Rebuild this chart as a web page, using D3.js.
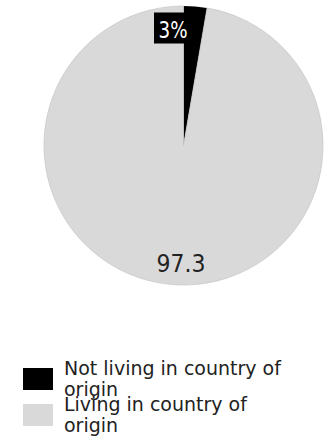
<!DOCTYPE html>
<html>
<head>
<meta charset="utf-8">
<script src="https://cdn.jsdelivr.net/npm/d3@7"></script>
<style>
  html, body { margin: 0; padding: 0; background: #fff; }
  svg { display: block; }
  text { font-family: "DejaVu Sans", Verdana, sans-serif; }
</style>
</head>
<body>
<svg id="chart" width="331" height="442"></svg>
<script>
const categories = ["Not living in country of origin", "Living in country of origin"];
const values = [2.7, 97.3];
const sliceLabels = ["3%", "97.3"];
const legendLines = [["Not living in country of", "origin"], ["Living in country of", "origin"]];
const colors = ["#000000", "#d9d9d9"];

const svg = d3.select("#chart");
const cx = 183.5, cy = 145.5, r = 139.5;

const color = d3.scaleOrdinal().domain(categories).range(colors);
const pie = d3.pie().sort(null).value(d => d.value);
const data = categories.map((c, i) => ({ cat: c, value: values[i], label: sliceLabels[i] }));
const arcs = pie(data);
const arc = d3.arc().innerRadius(0).outerRadius(r);

const g = svg.append("g").attr("transform", `translate(${cx},${cy})`);
g.selectAll("path.slice")
  .data(arcs)
  .join("path")
  .attr("class", "slice")
  .attr("d", arc)
  .attr("fill", d => color(d.data.cat))
  .attr("stroke", (d, i) => i === 1 ? "#c4c4c4" : "none")
  .attr("stroke-width", 0.7);

// small slice label with dark background box (placed at top, left of slice)
const small = arcs[0];
const sg = g.append("g").attr("transform", `translate(${-29.5},${-r + 6.5})`);
sg.append("rect").attr("x", 0).attr("y", 0).attr("width", 30).attr("height", 31).attr("fill", "#000");
sg.append("text")
  .attr("x", 4.5).attr("y", 25)
  .attr("fill", "#fff")
  .attr("font-size", 23)
  .attr("textLength", 29)
  .attr("lengthAdjust", "spacingAndGlyphs")
  .text(small.data.label);

// big slice label near bottom
const big = arcs[1];
g.append("text")
  .attr("x", -2.5).attr("y", r - 13.5)
  .attr("text-anchor", "middle")
  .attr("fill", "#222")
  .attr("font-size", 25)
  .attr("textLength", 49)
  .attr("lengthAdjust", "spacingAndGlyphs")
  .text(big.data.label);

// legend
const legend = svg.append("g").attr("transform", "translate(23,368)");
const items = legend.selectAll("g.item")
  .data(categories)
  .join("g")
  .attr("class", "item")
  .attr("transform", (d, i) => `translate(0,${i * 36})`);
items.append("rect")
  .attr("width", 30).attr("height", 22)
  .attr("fill", d => color(d));
items.append("text")
  .attr("x", 41).attr("y", 7)
  .attr("font-size", 19)
  .attr("fill", "#222")
  .selectAll("tspan")
  .data((d, i) => legendLines[i])
  .join("tspan")
  .attr("x", 41)
  .attr("dy", (d, j) => j === 0 ? 0 : 21)
  .text(d => d);
</script>
</body>
</html>
